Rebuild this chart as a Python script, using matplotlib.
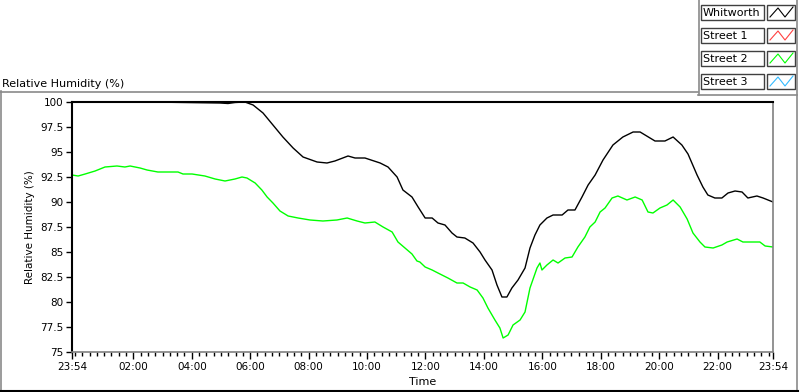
import matplotlib
matplotlib.use("Agg")
import matplotlib.pyplot as plt
from matplotlib.patches import Rectangle
from matplotlib.ticker import FixedLocator, FuncFormatter

# ---- data (hours from midnight; -0.1 = 23:54 previous day) ----
whit_t = [-0.1, 2.57, 4.97, 5.24, 5.48, 5.82, 6.10, 6.44, 6.78, 7.12, 7.47, 7.81, 8.29, 8.63,
          8.90, 9.35, 9.59, 9.93, 10.45, 10.72, 11.03, 11.23, 11.54, 11.75, 11.99, 12.23, 12.43,
          12.67, 12.91, 13.08, 13.35, 13.63, 13.87, 14.04, 14.28, 14.45, 14.62, 14.79, 14.96,
          15.17, 15.41, 15.58, 15.75, 15.92, 16.16, 16.37, 16.68, 16.88, 17.12, 17.36, 17.57,
          17.81, 18.08, 18.42, 18.76, 19.11, 19.35, 19.69, 19.86, 20.20, 20.48, 20.78, 20.99,
          21.30, 21.50, 21.67, 21.91, 22.15, 22.36, 22.60, 22.84, 23.04, 23.35, 23.56, 23.9]
whit_v = [100.0, 100.0, 99.9, 99.85, 99.95, 100.0, 99.7, 98.9, 97.7, 96.5, 95.4, 94.5, 94.0, 93.9,
          94.1, 94.6, 94.4, 94.4, 93.9, 93.5, 92.5, 91.2, 90.5, 89.5, 88.4, 88.4, 87.9,
          87.7, 86.9, 86.5, 86.4, 85.9, 85.0, 84.2, 83.2, 81.7, 80.5, 80.5, 81.4,
          82.2, 83.4, 85.4, 86.7, 87.7, 88.4, 88.7, 88.7, 89.2, 89.2, 90.5, 91.7,
          92.7, 94.2, 95.7, 96.5, 97.0, 97.0, 96.4, 96.1, 96.1, 96.5, 95.7, 94.8,
          92.7, 91.5, 90.7, 90.4, 90.4, 90.9, 91.1, 91.0, 90.4, 90.6, 90.4, 90.0]

st2_t = [-0.1, 0.11, 0.35, 0.69, 1.03, 1.44, 1.71, 1.89, 2.23, 2.47, 2.84, 3.53, 3.70, 4.01, 4.45,
         4.80, 5.14, 5.48, 5.72, 5.89, 6.17, 6.40, 6.58, 6.78, 7.02, 7.30, 7.64, 8.05, 8.49, 8.97,
         9.32, 9.66, 9.93, 10.27, 10.55, 10.86, 11.06, 11.30, 11.54, 11.71, 11.81, 11.99, 12.23,
         12.43, 12.77, 13.08, 13.29, 13.53, 13.77, 13.97, 14.14, 14.38, 14.55, 14.66, 14.83,
         15.00, 15.24, 15.41, 15.58, 15.82, 15.92, 15.99, 16.16, 16.37, 16.54, 16.78, 17.02,
         17.22, 17.46, 17.63, 17.81, 17.98, 18.15, 18.39, 18.59, 18.90, 19.18, 19.42, 19.62,
         19.79, 20.03, 20.27, 20.48, 20.72, 20.96, 21.16, 21.40, 21.57, 21.85, 22.15, 22.33,
         22.67, 22.87, 23.18, 23.45, 23.63, 23.9]
st2_v = [92.7, 92.6, 92.8, 93.1, 93.5, 93.6, 93.5, 93.6, 93.4, 93.2, 93.0, 93.0, 92.8, 92.8, 92.6,
         92.3, 92.1, 92.3, 92.5, 92.4, 91.9, 91.2, 90.5, 89.9, 89.1, 88.6, 88.4, 88.2, 88.1, 88.2,
         88.4, 88.1, 87.9, 88.0, 87.5, 87.0, 86.0, 85.4, 84.8, 84.1, 84.0, 83.5, 83.2,
         82.9, 82.4, 81.9, 81.9, 81.5, 81.2, 80.4, 79.4, 78.2, 77.4, 76.4, 76.7,
         77.7, 78.2, 79.0, 81.4, 83.4, 83.9, 83.2, 83.7, 84.2, 83.9, 84.4, 84.5,
         85.5, 86.5, 87.5, 88.0, 89.0, 89.4, 90.4, 90.6, 90.2, 90.5, 90.2, 89.0,
         88.9, 89.4, 89.7, 90.2, 89.5, 88.3, 86.9, 86.0, 85.5, 85.4, 85.7, 86.0,
         86.3, 86.0, 86.0, 86.0, 85.6, 85.5]

series_names = ["Whitworth", "Street 1", "Street 2", "Street 3"]
series_colors = ["#000000", "#ff4040", "#00ff00", "#33bbff"]

y_ticks = [75, 77.5, 80, 82.5, 85, 87.5, 90, 92.5, 95, 97.5, 100]
x_major = [-0.1, 2, 4, 6, 8, 10, 12, 14, 16, 18, 20, 22, 23.9]
x_major_labels = ["23:54", "02:00", "04:00", "06:00", "08:00", "10:00", "12:00",
                  "14:00", "16:00", "18:00", "20:00", "22:00", "23:54"]

W, H = 800, 392
fig = plt.figure(figsize=(8.0, 3.92), dpi=100)
fig.patch.set_facecolor("white")
plt.rcParams['font.family'] = ['DejaVu Sans']

ax = fig.add_axes([72 / W, (H - 352) / H, (773 - 72) / W, (352 - 102) / H])
ax.plot(st2_t, st2_v, color=series_colors[2], lw=1.0)
ax.plot(whit_t, whit_v, color=series_colors[0], lw=1.0)
ax.set_xlim(-0.1, 23.9)
ax.set_ylim(75, 100)

ax.spines['left'].set_color('black')
ax.spines['top'].set_color('black')
ax.spines['left'].set_linewidth(1.5)
ax.spines['top'].set_linewidth(1.5)
ax.spines['right'].set_color('#808080')
ax.spines['bottom'].set_color('#808080')
ax.spines['right'].set_linewidth(1.2)
ax.spines['bottom'].set_linewidth(1.2)

ax.yaxis.set_major_locator(FixedLocator(y_ticks))
ax.yaxis.set_major_formatter(FuncFormatter(lambda v, p: ("%g" % v)))
ax.tick_params(axis='y', direction='out', length=4, width=1, pad=2, labelsize=7.5, colors='black')

ax.xaxis.set_major_locator(FixedLocator(x_major))
ax.set_xticklabels(x_major_labels)
minor = [i * 0.25 for i in range(0, 96)]
ax.xaxis.set_minor_locator(FixedLocator(minor))
ax.tick_params(axis='x', which='major', direction='out', length=5, width=1, pad=2, labelsize=7.5)
ax.tick_params(axis='x', which='minor', direction='out', length=3, width=1)

ax.set_ylabel("Relative Humidity (%)", fontsize=7.5, labelpad=4)
ax.set_xlabel("Time", fontsize=8, labelpad=4)

# ---- overlay for panel frame and legend ----
ov = fig.add_axes([0, 0, 1, 1], facecolor='none')
ov.set_xlim(0, W)
ov.set_ylim(H, 0)
ov.axis('off')
grey = '#8a8a8a'
ov.plot([0, 698], [91.5, 91.5], color=grey, lw=1.2)
ov.plot([698.5, 698.5], [0, 95], color=grey, lw=1.2)
ov.plot([698, 797], [95, 95], color=grey, lw=1.2)
ov.plot([797, 797], [0, 391], color=grey, lw=1.2)
ov.plot([0.5, 0.5], [91, 391], color=grey, lw=1.2)
ov.plot([0, 798], [390.5, 390.5], color='black', lw=1.5)

ov.text(2, 87, "Relative Humidity (%)", fontsize=8, ha='left', va='baseline')

box_tops = [5, 28, 51, 74]
for name, col, top in zip(series_names, series_colors, box_tops):
    ov.add_patch(Rectangle((701, top), 63, 15, facecolor='white', edgecolor='#404040', lw=1.0))
    ov.text(703, top + 7.8, name, fontsize=8, ha='left', va='center')
    ov.add_patch(Rectangle((767, top), 28, 15, facecolor='white', edgecolor='#404040', lw=1.0))
    ov.plot([770, 778, 785, 793], [top + 12, top + 3, top + 12, top + 2], color=col, lw=0.8)

fig.savefig("out.png", dpi=100, facecolor='white')
